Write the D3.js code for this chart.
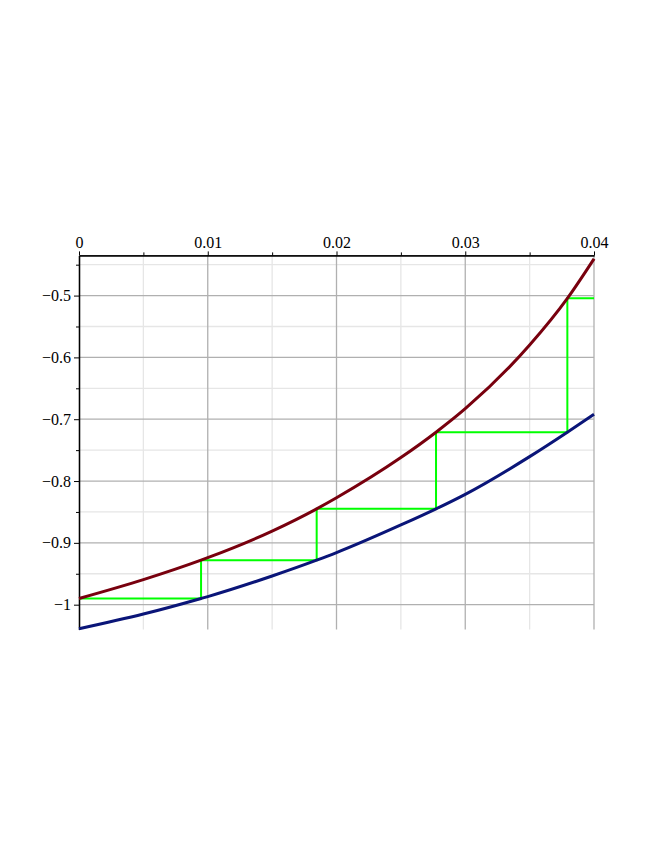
<!DOCTYPE html>
<html>
<head>
<meta charset="utf-8">
<script src="https://cdn.jsdelivr.net/npm/d3@7"></script>
<style>
  html, body { margin: 0; padding: 0; background: #ffffff; }
  svg { display: block; }
</style>
</head>
<body>
<svg id="chart" width="654" height="846"></svg>
<script>
// ---- data ----
const xTickValues = [0, 0.01, 0.02, 0.03, 0.04];
const xTickLabels = ["0", "0.01", "0.02", "0.03", "0.04"];
const xMinorValues = [0.005, 0.015, 0.025, 0.035];
const yTickValues = [-1, -0.9, -0.8, -0.7, -0.6, -0.5];
const yTickLabels = ["\u22121", "\u22120.9", "\u22120.8", "\u22120.7", "\u22120.6", "\u22120.5"];
const yMinorValues = [-0.95, -0.85, -0.75, -0.65, -0.55, -0.45];

// upper (maroon) curve
const redX = [0, 0.005, 0.00948, 0.01, 0.015, 0.01846, 0.02, 0.025, 0.02773, 0.03, 0.035, 0.03793, 0.04];
const redY = [-0.990, -0.9595, -0.928, -0.924, -0.881, -0.845, -0.827, -0.762, -0.721, -0.683, -0.580, -0.5045, -0.4405];

// lower (navy) curve
const blueX = [0, 0.005, 0.00948, 0.01, 0.015, 0.01846, 0.02, 0.025, 0.02773, 0.03, 0.035, 0.03793, 0.04];
const blueY = [-1.039, -1.0152, -0.990, -0.9869, -0.9536, -0.928, -0.9158, -0.8711, -0.845, -0.8215, -0.7605, -0.721, -0.692];

// staircase (green) corners
const stepX = [0, 0.00948, 0.01846, 0.02773, 0.03793, 0.04];
const stepY = [-0.990, -0.928, -0.845, -0.721, -0.5045, -0.5045];

// ---- drawing ----
const svg = d3.select("#chart");
const x = d3.scaleLinear().domain([0, 0.04]).range([79, 594]);
const y = d3.scaleLinear().domain([-1.04, -0.435]).range([629.4, 255.4]);

const g = svg.append("g");

// minor gridlines
g.selectAll(".vminor").data(xMinorValues).enter().append("line")
  .attr("x1", d => x(d)).attr("x2", d => x(d))
  .attr("y1", y.range()[1]).attr("y2", y.range()[0])
  .attr("stroke", "#e6e6e6").attr("stroke-width", 1.3);
g.selectAll(".hminor").data(yMinorValues).enter().append("line")
  .attr("x1", x.range()[0]).attr("x2", x.range()[1])
  .attr("y1", d => y(d)).attr("y2", d => y(d))
  .attr("stroke", "#e6e6e6").attr("stroke-width", 1.3);

// major gridlines
g.selectAll(".vmajor").data(xTickValues.slice(1)).enter().append("line")
  .attr("x1", d => x(d)).attr("x2", d => x(d))
  .attr("y1", y.range()[1]).attr("y2", y.range()[0])
  .attr("stroke", "#b0b0b0").attr("stroke-width", 1.3);
g.selectAll(".hmajor").data(yTickValues).enter().append("line")
  .attr("x1", x.range()[0]).attr("x2", x.range()[1])
  .attr("y1", d => y(d)).attr("y2", d => y(d))
  .attr("stroke", "#b0b0b0").attr("stroke-width", 1.3);

// axes
const axTop = d3.axisTop(x).tickValues(xTickValues)
  .tickFormat((d, i) => xTickLabels[i]).tickSize(4).tickPadding(3).tickSizeOuter(0);
const axTopMinor = d3.axisTop(x).tickValues(xMinorValues).tickFormat("").tickSize(3).tickSizeOuter(0);
const axLeft = d3.axisLeft(y).tickValues(yTickValues)
  .tickFormat((d, i) => yTickLabels[i]).tickSize(5).tickPadding(3).tickSizeOuter(0);
const axLeftMinor = d3.axisLeft(y).tickValues(yMinorValues).tickFormat("").tickSize(3).tickSizeOuter(0);

function styleAxis(sel) {
  sel.selectAll("path").attr("stroke", "#000").attr("stroke-width", 1.3);
  sel.selectAll("line").attr("stroke", "#000").attr("stroke-width", 1);
  sel.selectAll("text").attr("fill", "#000")
    .style("font-family", "'Liberation Serif', 'DejaVu Serif', serif")
    .style("font-size", "16px");
}

const yTopPix = y.range()[1];
svg.append("g").attr("transform", `translate(0,${yTopPix})`).call(axTopMinor).call(styleAxis);
svg.append("g").attr("transform", `translate(0,${yTopPix})`).call(axTop).call(styleAxis);
svg.append("g").attr("transform", `translate(${x.range()[0]},0)`).call(axLeftMinor).call(styleAxis);
svg.append("g").attr("transform", `translate(${x.range()[0]},0)`).call(axLeft).call(styleAxis);

// staircase
const stepLine = d3.line().x(d => x(d[0])).y(d => y(d[1])).curve(d3.curveStepAfter);
svg.append("path")
  .datum(stepX.map((v, i) => [v, stepY[i]]))
  .attr("d", stepLine)
  .attr("fill", "none").attr("stroke", "#00ff00").attr("stroke-width", 2);

// curves
const smooth = d3.line().x(d => x(d[0])).y(d => y(d[1])).curve(d3.curveMonotoneX);
svg.append("path")
  .datum(blueX.map((v, i) => [v, blueY[i]]))
  .attr("d", smooth)
  .attr("fill", "none").attr("stroke", "#0a1578").attr("stroke-width", 3);
svg.append("path")
  .datum(redX.map((v, i) => [v, redY[i]]))
  .attr("d", smooth)
  .attr("fill", "none").attr("stroke", "#78000e").attr("stroke-width", 3);
</script>
</body>
</html>
